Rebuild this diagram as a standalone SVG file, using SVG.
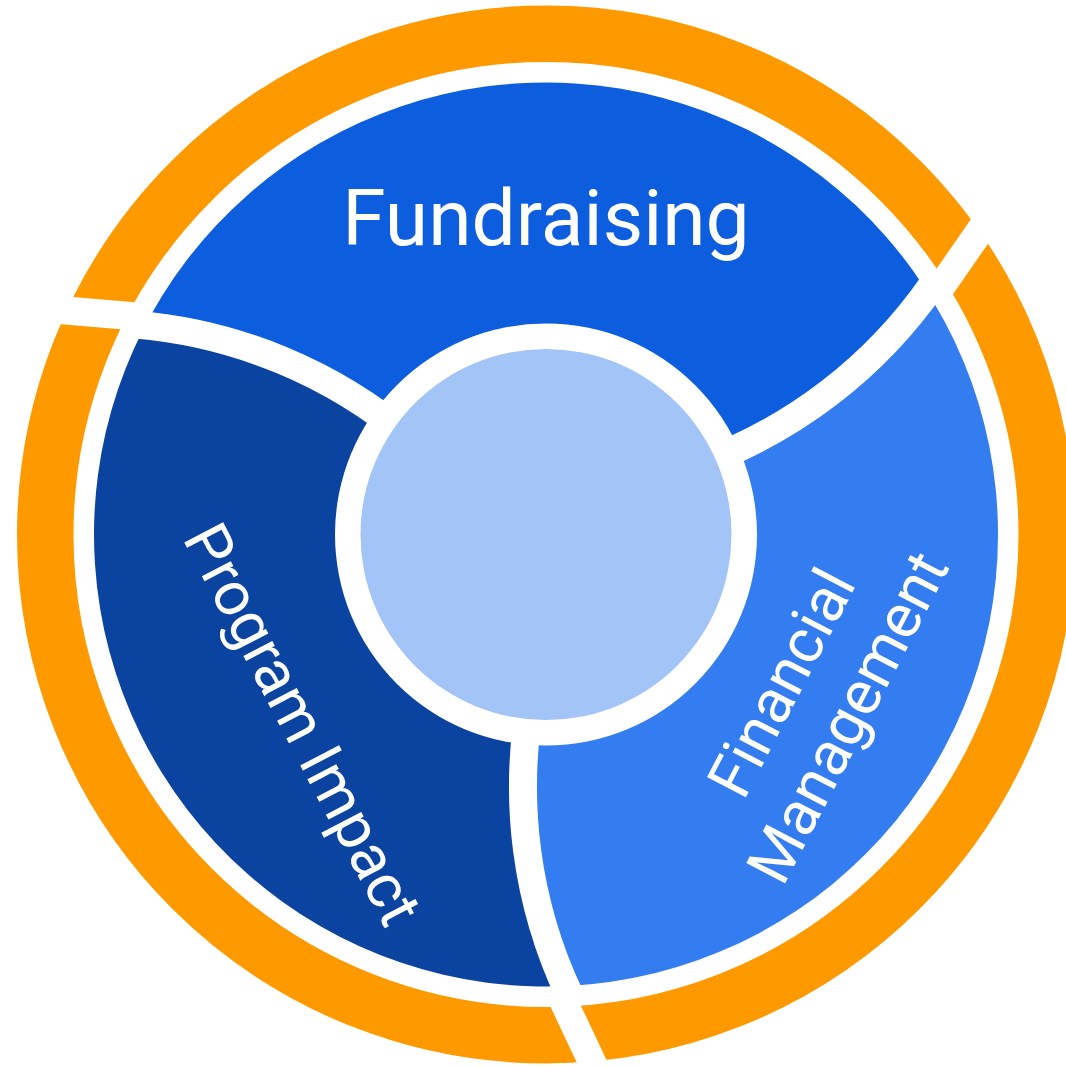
<svg xmlns="http://www.w3.org/2000/svg" width="1066" height="1067" viewBox="0 0 1066 1067">
<defs>
<style>
.ring{fill:none;stroke:#FF9900;stroke-width:56.5}
.cut{fill:none;stroke:#FFFFFF;stroke-width:28}
.lbl{font-family:Roboto,"Liberation Sans",sans-serif;fill:#FFFFFF;text-anchor:middle}
</style>
<clipPath id="disc"><circle cx="546" cy="534.5" r="452"/></clipPath>
<path id="seg" d="M546,534.5 L696.9,464.9 A488,488 0 0 0 933,283.9 A461,461 0 0 1 569.5,995 A488,488 0 0 1 530.8,700 Z"/>
<path id="gapcurve" d="M530.8,700 A488,488 0 0 0 569.5,995"/>
<path id="ocut" d="M560.6,995.4 L601.1,1081.4"/>
</defs>
<rect width="1066" height="1067" fill="#FFFFFF"/>
<g id="outer-ring">
<circle class="ring" cx="546" cy="534.5" r="500.75"/>
<use href="#ocut" class="cut"/>
<use href="#ocut" class="cut" transform="rotate(120 546 534.5)"/>
<use href="#ocut" class="cut" transform="rotate(-120 546 534.5)"/>
</g>
<g id="fundraising">
<use href="#seg" fill="#0D5EDE" clip-path="url(#disc)" transform="rotate(-120 546 534.5)"/>
<text class="lbl" x="546" y="245" font-size="78.5">Fundraising</text>
</g>
<g id="program-impact">
<use href="#seg" fill="#0B44A0" clip-path="url(#disc)" transform="rotate(120 546 534.5)"/>
<text class="lbl" font-size="61.5" transform="translate(284 734) rotate(62.5)">Program Impact</text>
</g>
<g id="financial-management">
<use href="#seg" fill="#337DF0" clip-path="url(#disc)"/>
<text class="lbl" font-size="61.5" transform="translate(833.3 709.8) rotate(-62.5)"><tspan x="0" y="-37.3">Financial</tspan><tspan x="0" y="37.3">Management</tspan></text>
</g>
<g id="connectors">
<use href="#gapcurve" class="cut"/>
<use href="#gapcurve" class="cut" transform="rotate(120 546 534.5)"/>
<use href="#gapcurve" class="cut" transform="rotate(-120 546 534.5)"/>
</g>
<g id="center">
<circle cx="546" cy="534.5" r="211" fill="#FFFFFF"/>
<circle cx="546" cy="534.5" r="185.5" fill="#A2C4F7"/>
</g>
</svg>
